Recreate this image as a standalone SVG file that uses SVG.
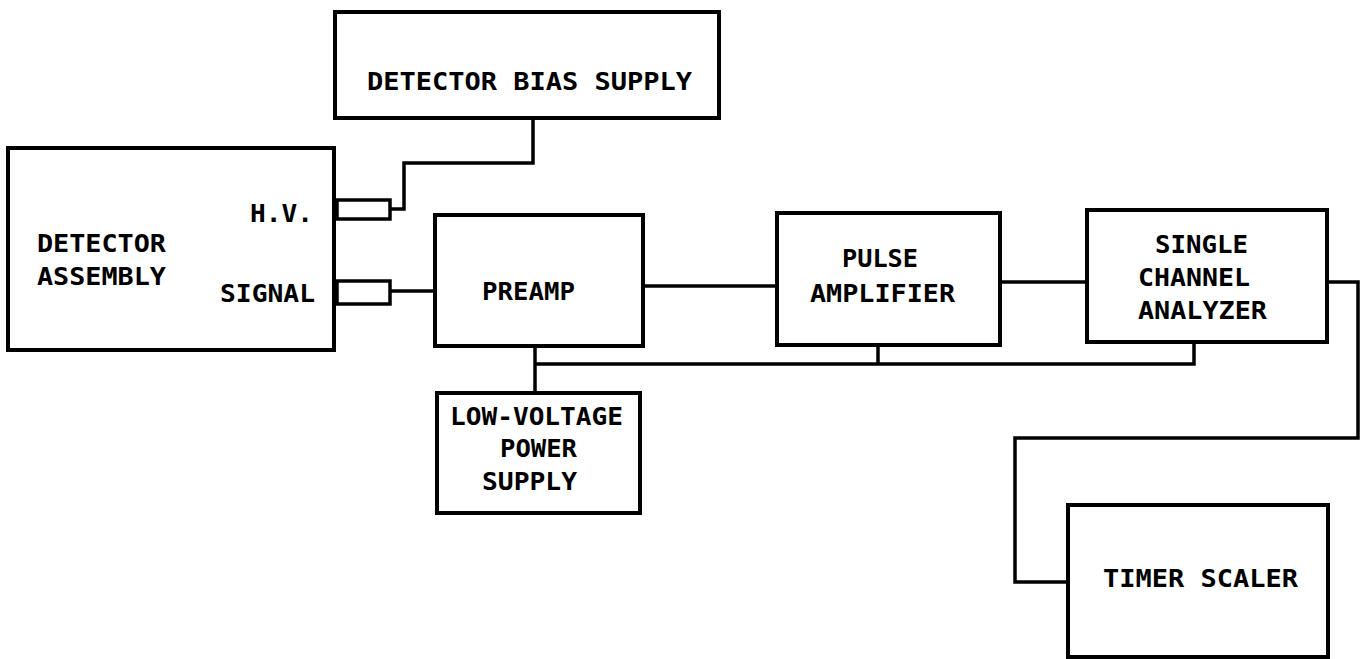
<svg xmlns="http://www.w3.org/2000/svg" width="1362" height="659" viewBox="0 0 1362 659">
<style>
.box{fill:none;stroke:#000;stroke-width:4}
.ln{fill:none;stroke:#000;stroke-width:3.5;stroke-linejoin:miter}
text{font-family:"DejaVu Sans Mono","Liberation Mono",monospace;font-size:25px;font-weight:bold;fill:#000}
</style>
<rect width="1362" height="659" fill="#fff"/>
<g id="connectors">
<rect class="ln" x="337" y="200" width="53" height="19"/>
<rect class="ln" x="337" y="281" width="53" height="23"/>
<polyline class="ln" points="390,209 404,209 404,163 533,163 533,118"/>
<polyline class="ln" points="390,291 435,291"/>
<polyline class="ln" points="643,286 777,286"/>
<polyline class="ln" points="1000,282 1087,282"/>
<polyline class="ln" points="1327,282 1358,282 1358,438 1015,438 1015,582 1068,582"/>
<polyline class="ln" points="535,346 535,393"/>
<polyline class="ln" points="535,364 1194,364 1194,342"/>
<polyline class="ln" points="878,345 878,364"/>
</g>
<g id="detector-assembly">
<rect class="box" x="8" y="148" width="326" height="202"/>
<text x="37" y="252" textLength="129" lengthAdjust="spacingAndGlyphs">DETECTOR</text>
<text x="37" y="285" textLength="129" lengthAdjust="spacingAndGlyphs">ASSEMBLY</text>
<text x="250" y="222" textLength="63" lengthAdjust="spacingAndGlyphs">H.V.</text>
<text x="220" y="302" textLength="95" lengthAdjust="spacingAndGlyphs">SIGNAL</text>
</g>
<g id="detector-bias-supply">
<rect class="box" x="335" y="12" width="384" height="106"/>
<text x="367" y="90" textLength="325" lengthAdjust="spacingAndGlyphs">DETECTOR BIAS SUPPLY</text>
</g>
<g id="preamp">
<rect class="box" x="435" y="215" width="208" height="131"/>
<text x="482" y="300" textLength="93" lengthAdjust="spacingAndGlyphs">PREAMP</text>
</g>
<g id="pulse-amplifier">
<rect class="box" x="777" y="213" width="223" height="132"/>
<text x="842" y="267" textLength="76" lengthAdjust="spacingAndGlyphs">PULSE</text>
<text x="810" y="302" textLength="145" lengthAdjust="spacingAndGlyphs">AMPLIFIER</text>
</g>
<g id="single-channel-analyzer">
<rect class="box" x="1087" y="210" width="240" height="132"/>
<text x="1155" y="253" textLength="93" lengthAdjust="spacingAndGlyphs">SINGLE</text>
<text x="1138" y="286" textLength="112" lengthAdjust="spacingAndGlyphs">CHANNEL</text>
<text x="1138" y="319" textLength="129" lengthAdjust="spacingAndGlyphs">ANALYZER</text>
</g>
<g id="low-voltage-power-supply">
<rect class="box" x="437" y="393" width="203" height="120"/>
<text x="450" y="425" textLength="173" lengthAdjust="spacingAndGlyphs">LOW-VOLTAGE</text>
<text x="500" y="457" textLength="77" lengthAdjust="spacingAndGlyphs">POWER</text>
<text x="482" y="490" textLength="95" lengthAdjust="spacingAndGlyphs">SUPPLY</text>
</g>
<g id="timer-scaler">
<rect class="box" x="1068" y="505" width="260" height="152"/>
<text x="1103" y="587" textLength="195" lengthAdjust="spacingAndGlyphs">TIMER SCALER</text>
</g>
</svg>
